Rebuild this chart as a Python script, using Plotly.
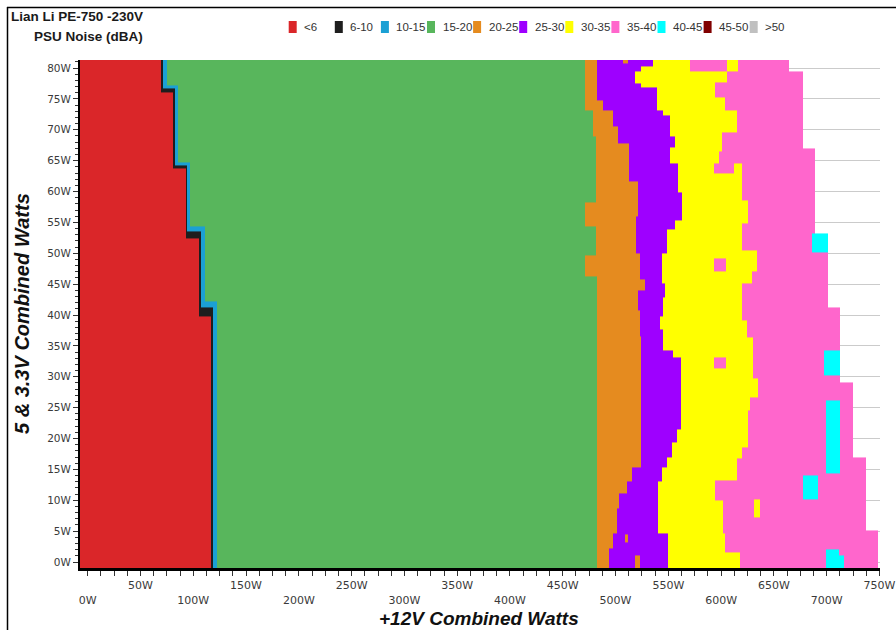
import plotly.graph_objects as go

# Noise bands (dBA) and their colours
BANDS = ["<6", "6-10", "10-15", "15-20", "20-25", "25-30", "30-35",
         "35-40", "40-45", "45-50", ">50"]
BAND_LABELS = ["&lt;6", "6-10", "10-15", "15-20", "20-25", "25-30", "30-35",
               "35-40", "40-45", "45-50", "&gt;50"]
BAND_COLORS = ["#DA2629", "#1E1E1E", "#1BA0D4", "#58B65C", "#E58B1F", "#9E00FF",
               "#FFFF00", "#FF66CC", "#00FFFF", "#800000", "#C0C0C0"]

# Load ranges (watts)
X_MIN, X_MAX = -7.3, 750.5      # +12V
Y_MIN, Y_MAX = -1.0, 81.4       # 5V & 3.3V

# Band edges along +12V load. Each *_Y entry is the 5V/3.3V load where a
# segment starts; the matching *_W value holds until the next entry.
RED_END_Y = [-1.0, 39.8, 52.4, 63.8, 76.0]
RED_END_W = [116.8, 105.7, 92.8, 81.1, 69.3]

BLACK_END_Y = [-1.0, 41.2, 53.5, 64.3, 76.7]
BLACK_END_W = [118.4, 107.4, 94.3, 82.7, 71.6]

BLUE_END_Y = [-1.0, 42.2, 54.3, 64.8, 77.2]
BLUE_END_W = [122.8, 111.0, 96.9, 85.8, 74.8]

GREEN_END_Y = [-1.0, 46.2, 49.7, 54.3, 58.3, 68.9, 73.2]
GREEN_END_W = [482.0, 471.0, 481.5, 471.0, 481.5, 479.0, 471.0]

ORANGE_END_Y = [-1.0, 2.2, 4.6, 8.7, 11.1, 13.0, 15.4, 36.5, 40.8, 44.0,
                45.7, 50.0, 55.9, 61.6, 67.8, 70.5, 73.2, 74.8]
ORANGE_END_W = [494.1, 497.9, 501.1, 503.6, 510.6, 515.3, 524.1, 523.2, 521.0, 528.0,
                523.2, 519.4, 521.6, 513.0, 502.6, 498.0, 488.4, 482.0]

PURPLE_END_Y = [-1.0, 4.6, 13.0, 15.4, 17.0, 19.3, 21.4, 33.2, 34.3, 37.6,
                39.7, 42.9, 45.2, 50.0, 53.8, 55.4, 59.8, 64.6, 67.2, 68.9,
                72.4, 73.2, 76.8, 77.5, 79.4, 80.2]
PURPLE_END_W = [550.0, 540.5, 543.7, 548.5, 553.0, 558.0, 562.0, 554.0, 545.2, 542.0,
                545.0, 546.8, 543.7, 548.5, 556.3, 562.7, 559.4, 551.6, 556.3, 551.6,
                545.0, 539.0, 524.0, 518.4, 524.0, 535.5]

YELLOW_END_Y = [-1.0, 1.5, 4.6, 10.0, 13.3, 16.8, 18.6, 24.6, 26.7, 29.8,
                36.3, 39.2, 45.2, 47.0, 50.5, 54.9, 58.6, 63.0, 64.6, 66.5,
                69.5, 73.2, 75.3, 77.6, 79.4]
YELLOW_END_W = [617.9, 603.7, 602.1, 594.2, 614.8, 619.5, 625.8, 627.4, 635.2, 630.5,
                624.2, 619.5, 629.0, 633.7, 619.5, 625.8, 619.5, 593.0, 598.0, 601.0,
                614.8, 603.7, 594.2, 605.3, 570.6]

PINK_END_Y = [-1.0, 5.2, 17.0, 29.1, 41.3, 50.2, 53.3, 67.0, 79.4]
PINK_END_W = [748.9, 737.2, 724.6, 712.6, 701.0, 685.8, 689.0, 677.3, 664.6]

# Isolated patches: (band index, x from, x to, y from, y to)
PATCHES = [
    (4, 507.4, 512.1, 80.8, 81.4),
    (4, 509.0, 512.0, 3.2, 4.4),
    (4, 518.4, 523.2, -1.0, 1.1),
    (6, 605.3, 616.0, 79.4, 81.4),
    (6, 612.0, 620.0, 63.0, 64.6),
    (6, 631.4, 636.8, 7.3, 10.2),
    (7, 593.3, 604.6, 47.0, 49.1),
    (7, 593.3, 604.6, 31.3, 33.2),
    (8, 685.8, 701.0, 50.2, 53.3),
    (8, 697.7, 712.6, 30.3, 34.2),
    (8, 699.1, 712.6, 14.3, 26.1),
    (8, 677.3, 692.1, 10.2, 14.1),
    (8, 699.5, 712.0, 1.1, 2.1),
    (8, 699.5, 716.5, -1.0, 1.1),
]

X_TICKS = [i * 12.5 for i in range(61)]
X_LABELS_UPPER = list(range(50, 751, 100))
X_LABELS_LOWER = list(range(0, 701, 100))
Y_TICKS = list(range(0, 81, 5))

EDGES = [
    (RED_END_Y, RED_END_W),
    (BLACK_END_Y, BLACK_END_W),
    (BLUE_END_Y, BLUE_END_W),
    (GREEN_END_Y, GREEN_END_W),
    (ORANGE_END_Y, ORANGE_END_W),
    (PURPLE_END_Y, PURPLE_END_W),
    (YELLOW_END_Y, YELLOW_END_W),
    (PINK_END_Y, PINK_END_W),
]


def edge_at(ys, ws, y):
    val = ws[0]
    for yy, ww in zip(ys, ws):
        if y >= yy:
            val = ww
    return val


def band_at(x, y):
    for p in PATCHES:
        if p[1] <= x < p[2] and p[3] <= y < p[4]:
            return p[0]
    for k, (ys, ws) in enumerate(EDGES):
        if x < edge_at(ys, ws, y):
            return k
    return None


# cell edges: every boundary value becomes a grid line
xs = {X_MIN, X_MAX}
ys = {Y_MIN, Y_MAX}
for by, bw in EDGES:
    xs.update(bw)
    ys.update(by)
for p in PATCHES:
    xs.update(p[1:3])
    ys.update(p[3:5])
x_edges = sorted(v for v in xs if X_MIN <= v <= X_MAX)
y_edges = sorted(v for v in ys if Y_MIN <= v <= Y_MAX)

z = []
for j in range(len(y_edges) - 1):
    yc = 0.5 * (y_edges[j] + y_edges[j + 1])
    z.append([band_at(0.5 * (x_edges[i] + x_edges[i + 1]), yc)
              for i in range(len(x_edges) - 1)])

n = len(BANDS)
colorscale = []
for k, c in enumerate(BAND_COLORS):
    colorscale.append([k / n, c])
    colorscale.append([(k + 1) / n, c])

fig = go.Figure()
fig.add_trace(go.Heatmap(
    x=x_edges, y=y_edges, z=z,
    colorscale=colorscale, zmin=-0.5, zmax=n - 0.5,
    showscale=False, hoverinfo="skip", zsmooth=False,
))

W, H = 896, 630
ML, MR, MT, MB = 80, 16, 60, 62
PW, PH = W - ML - MR, H - MT - MB


def px(x):
    return (x - ML) / PW


def py(y):
    return (H - MB - y) / PH


y_tick_font = dict(family="DejaVu Sans", size=10.5, color="#3a3a3a")
x_tick_font = dict(family="DejaVu Sans", size=11, color="#3a3a3a")

fig.update_layout(
    width=W, height=H,
    margin=dict(l=ML, r=MR, t=MT, b=MB, autoexpand=False),
    paper_bgcolor="white", plot_bgcolor="white",
    showlegend=False,
    xaxis=dict(
        range=[X_MIN, X_MAX], showgrid=False, zeroline=False, automargin=False,
        showline=True, linecolor="black", linewidth=2.5,
        ticks="outside", ticklen=5, tickwidth=1, tickcolor="#333",
        tickmode="array", tickvals=X_TICKS,
        ticktext=[f"{int(v)}W" if v in X_LABELS_UPPER else "" for v in X_TICKS],
        tickfont=x_tick_font, fixedrange=True, ticklabeloverflow="allow",
    ),
    xaxis2=dict(
        overlaying="x", matches="x", anchor="y", side="bottom", automargin=False,
        showgrid=False, zeroline=False, showline=False, ticks="",
        tickmode="array", tickvals=X_LABELS_LOWER,
        ticktext=[f"{v}W" for v in X_LABELS_LOWER],
        tickfont=x_tick_font, ticklabelstandoff=24, ticklabeloverflow="allow",
    ),
    yaxis=dict(
        range=[-0.97, 81.3], zeroline=False, automargin=False,
        showgrid=True, gridcolor="#cbcbcb", gridwidth=1,
        showline=True, linecolor="black", linewidth=2,
        ticks="outside", ticklen=5, tickwidth=1, tickcolor="#333",
        tickmode="array", tickvals=Y_TICKS,
        ticktext=[f"{v}W" for v in Y_TICKS],
        tickfont=y_tick_font,
        minor=dict(ticks="outside", ticklen=3, tickcolor="#333", dtick=1, tick0=0,
                   showgrid=False),
    ),
)

# keep the secondary axis alive with an empty trace
fig.add_trace(go.Scatter(x=[None], y=[None], xaxis="x2", yaxis="y",
                         showlegend=False, hoverinfo="skip"))

# outer frame: top and left edges
shapes = [
    dict(type="line", xref="paper", yref="paper", x0=px(7), x1=px(1000),
         y0=py(7.5), y1=py(7.5), line=dict(color="black", width=1.5)),
    dict(type="line", xref="paper", yref="paper", x0=px(7.5), x1=px(7.5),
         y0=py(7), y1=py(1000), line=dict(color="black", width=1.5)),
]
annotations = []

# legend row
for k, (lab, col) in enumerate(zip(BAND_LABELS, BAND_COLORS)):
    cx = 292.7 + 46.1 * k
    shapes.append(dict(type="rect", xref="paper", yref="paper",
                       x0=px(cx - 4), x1=px(cx + 4), y0=py(33), y1=py(21),
                       line=dict(width=0), fillcolor=col))
    annotations.append(dict(xref="paper", yref="paper", x=px(cx + 9.5), y=py(27),
                            xanchor="left", yanchor="middle", showarrow=False,
                            text=lab, font=dict(family="Liberation Sans", size=11.5,
                                                color="#333")))

title_font = dict(family="Liberation Sans", size=13.5, color="#1a1a1a")
annotations += [
    dict(xref="paper", yref="paper", x=px(145), y=py(17), xanchor="right",
         yanchor="middle", showarrow=False, text="<b>Lian Li PE-750 -230V</b>",
         font=title_font),
    dict(xref="paper", yref="paper", x=px(145), y=py(36), xanchor="right",
         yanchor="middle", showarrow=False, text="<b>PSU Noise (dBA)</b>",
         font=title_font),
    dict(xref="paper", yref="paper", x=px(479), y=py(618.5), xanchor="center",
         yanchor="middle", showarrow=False, text="<b><i>+12V Combined Watts</i></b>",
         font=dict(family="Liberation Sans", size=19, color="#111")),
    dict(xref="paper", yref="paper", x=px(22), y=py(314), xanchor="center",
         yanchor="middle", showarrow=False, textangle=-90,
         text="<b><i>5 &amp; 3.3V Combined Watts</i></b>",
         font=dict(family="Liberation Sans", size=20, color="#111")),
]

fig.update_layout(shapes=shapes, annotations=annotations)
fig.write_html("out.html")
